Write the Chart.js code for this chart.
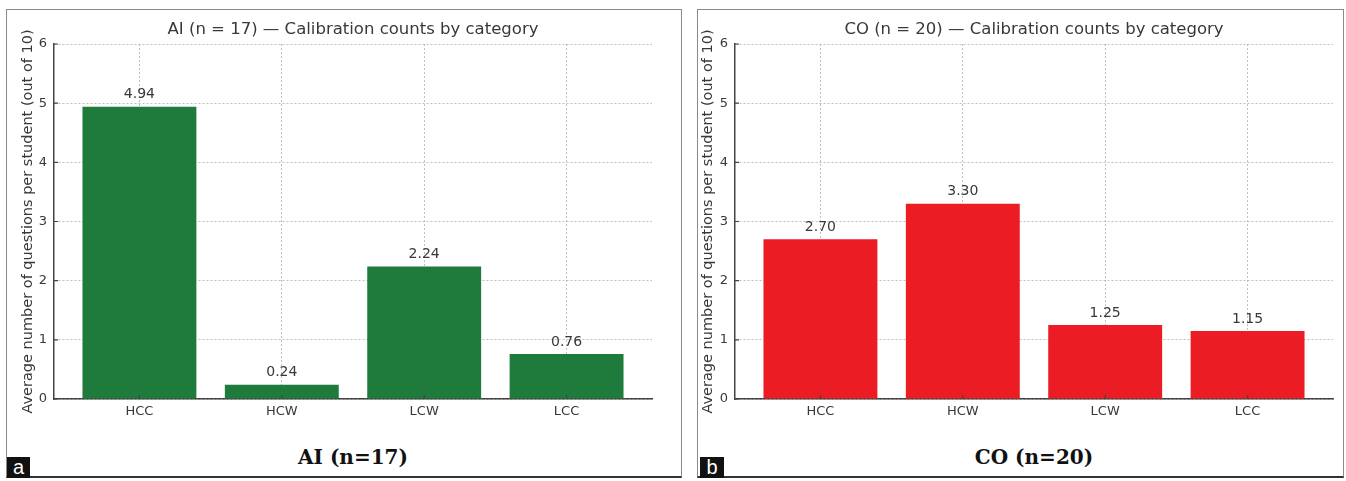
<!DOCTYPE html>
<html>
<head>
<meta charset="utf-8">
<script src="https://cdn.jsdelivr.net/npm/chart.js@4"></script>
<style>
body { margin: 0; background: #fff; width: 1346px; height: 481px; position: relative; overflow: hidden; }
.panel { position: absolute; top: 9px; height: 469px; border: 1px solid #8a8a8a; border-bottom: 2px solid #333; box-sizing: border-box; }
canvas { position: absolute; }
.caption { position: absolute; top: 445px; text-align: center; font: bold 20px "DejaVu Serif"; color: #111; }
.tag { position: absolute; top: 457px; height: 21px; background: #111; color: #fff; font: 20px "Liberation Sans"; text-align: center; line-height: 20px; }
</style>
</head>
<body>
<div class="panel" style="left:6px; width:676px;"></div>
<div class="panel" style="left:697px; width:647px;"></div>
<canvas id="chartAI" width="672" height="420" style="left:6px; top:10px;"></canvas>
<canvas id="chartCO" width="646" height="420" style="left:697px; top:10px;"></canvas>
<div class="caption" style="left:54px; width:598px;">AI (n=17)</div>
<div class="caption" style="left:735px; width:598px;">CO (n=20)</div>
<div class="tag" style="left:7px; width:23px;">a</div>
<div class="tag" style="left:700px; width:24px;">b</div>
<script>
const categories = ["HCC", "HCW", "LCW", "LCC"];
const aiValues = [4.94, 0.24, 2.24, 0.76];
const coValues = [2.70, 3.30, 1.25, 1.15];
const yTicks = [0, 1, 2, 3, 4, 5, 6];
const yAxisTitle = "Average number of questions per student (out of 10)";

const font = "DejaVu Sans";
const textColor = "#383838";
const gridColor = "rgba(170,170,170,0.75)";

// inward tick marks + value labels over the bars
const extras = {
    id: "extras",
    afterDraw(chart) {
        const { ctx, chartArea, scales: { x, y } } = chart;
        ctx.save();
        ctx.strokeStyle = "#444";
        ctx.lineWidth = 1.2;
        ctx.beginPath();
        y.ticks.forEach(t => {
            const py = y.getPixelForValue(t.value);
            ctx.moveTo(chartArea.left, py);
            ctx.lineTo(chartArea.left + 4, py);
        });
        x.ticks.forEach(t => {
            const px = x.getPixelForValue(t.value);
            ctx.moveTo(px, chartArea.bottom);
            ctx.lineTo(px, chartArea.bottom - 4);
        });
        ctx.stroke();

        ctx.fillStyle = textColor;
        ctx.font = "14px " + font;
        ctx.textAlign = "center";
        ctx.textBaseline = "bottom";
        const meta = chart.getDatasetMeta(0);
        meta.data.forEach((bar, i) => {
            const v = chart.data.datasets[0].data[i].y;
            ctx.fillText(v.toFixed(2), bar.x, bar.y - 5);
        });
        ctx.restore();
    }
};

function makeChart(id, title, values, color, yWidth, yTitlePad, rightPad) {
    return new Chart(document.getElementById(id), {
        type: "bar",
        data: {
            datasets: [{
                data: values.map((v, i) => ({ x: i, y: v })),
                backgroundColor: color,
                borderWidth: 0,
                barPercentage: 0.8,
                categoryPercentage: 1
            }]
        },
        options: {
            responsive: false,
            animation: false,
            layout: { padding: { top: 0, left: 0, right: rightPad, bottom: 0 } },
            plugins: {
                legend: { display: false },
                tooltip: { enabled: false },
                title: {
                    display: true,
                    text: title,
                    fullSize: false,
                    color: textColor,
                    font: { family: font, size: 16.5, weight: "normal" },
                    padding: { top: 10, bottom: 4.2 }
                }
            },
            scales: {
                x: {
                    type: "linear",
                    min: -0.6,
                    max: 3.6,
                    offset: false,
                    z: 1,
                    afterBuildTicks: s => { s.ticks = categories.map((c, i) => ({ value: i })); },
                    afterFit: s => { s.height = 31; },
                    ticks: {
                        callback: v => categories[v],
                        color: textColor,
                        font: { family: font, size: 13 },
                        padding: 5,
                        autoSkip: false,
                        maxRotation: 0
                    },
                    grid: { color: gridColor, lineWidth: 1, drawTicks: false, offset: false },
                    border: { color: "#444", width: 1.5, dash: [2, 2] }
                },
                y: {
                    min: 0,
                    max: 6,
                    z: 1,
                    afterBuildTicks: s => { s.ticks = yTicks.map(v => ({ value: v })); },
                    afterFit: s => { s.width = yWidth; },
                    ticks: {
                        color: textColor,
                        font: { family: font, size: 13 },
                        padding: 7
                    },
                    grid: { color: gridColor, lineWidth: 1, drawTicks: false },
                    border: { color: "#444", width: 1.5, dash: [2, 2] },
                    title: {
                        display: true,
                        text: yAxisTitle,
                        color: textColor,
                        font: { family: font, size: 14.5 },
                        padding: { top: yTitlePad, bottom: 0 }
                    }
                }
            }
        },
        plugins: [extras]
    });
}

makeChart("chartAI", "AI (n = 17) \u2014 Calibration counts by category", aiValues, "#1e7b3c", 48, 14, 26);
makeChart("chartCO", "CO (n = 20) \u2014 Calibration counts by category", coValues, "#ec1c24", 38, 3, 10);
</script>
</body>
</html>
